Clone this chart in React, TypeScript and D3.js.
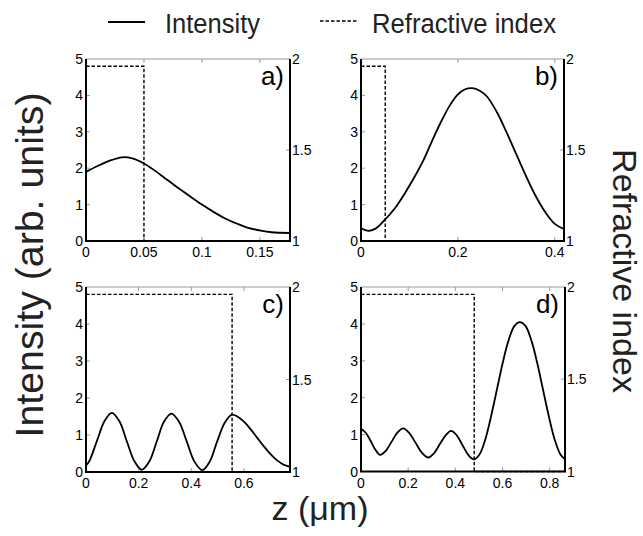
import React from 'react';
import * as d3 from 'd3';

const legendLabels = ['Intensity', 'Refractive index'];
const panelNames = ['a)', 'b)', 'c)', 'd)'];
const zMax = [0.176, 0.419, 0.775, 0.865];
const layerEnd = [0.05, 0.05, 0.555, 0.48];
const layerIndex = [1.96, 1.96, 1.96, 1.96];
const xTicks = [
  [0, 0.05, 0.1, 0.15],
  [0, 0.2, 0.4],
  [0, 0.2, 0.4, 0.6],
  [0, 0.2, 0.4, 0.6, 0.8],
];
const leftTicks = [0, 1, 2, 3, 4, 5];
const rightTicks = [1, 1.5, 2];

// intensity, [z (um), arb. units]
const intensityA = [
  [0, 1.9], [0.01, 2.06], [0.02, 2.2], [0.031, 2.3], [0.04, 2.27], [0.05, 2.13],
  [0.06, 1.92], [0.07, 1.68], [0.08, 1.45], [0.09, 1.22], [0.1, 1.0], [0.11, 0.8],
  [0.12, 0.62], [0.13, 0.48], [0.14, 0.36], [0.15, 0.29], [0.16, 0.24], [0.176, 0.22],
];
const intensityB = [
  [0, 0.35], [0.015, 0.28], [0.03, 0.34], [0.047, 0.55], [0.07, 0.9], [0.09, 1.3],
  [0.11, 1.75], [0.13, 2.25], [0.15, 2.85], [0.17, 3.4], [0.185, 3.76], [0.2, 4.03],
  [0.215, 4.17], [0.23, 4.2], [0.245, 4.13], [0.26, 3.97], [0.28, 3.55], [0.3, 3.0],
  [0.32, 2.4], [0.34, 1.8], [0.36, 1.25], [0.38, 0.8], [0.4, 0.47], [0.419, 0.33],
];
const intensityC = [
  [0, 0.17], [0.013, 0.3], [0.041, 0.83], [0.07, 1.37], [0.098, 1.6], [0.127, 1.37],
  [0.155, 0.83], [0.184, 0.29], [0.212, 0.06], [0.241, 0.29], [0.269, 0.83], [0.297, 1.37],
  [0.325, 1.58], [0.354, 1.35], [0.383, 0.82], [0.412, 0.28], [0.442, 0.05], [0.47, 0.28],
  [0.498, 0.82], [0.527, 1.33], [0.555, 1.55], [0.575, 1.5], [0.6, 1.36], [0.625, 1.16],
  [0.65, 0.93], [0.675, 0.7], [0.7, 0.49], [0.725, 0.32], [0.75, 0.2], [0.775, 0.14],
];
const intensityD = [
  [0, 1.16], [0.02, 1.05], [0.04, 0.84], [0.06, 0.6], [0.081, 0.45], [0.105, 0.56],
  [0.13, 0.81], [0.155, 1.06], [0.179, 1.17], [0.205, 1.04], [0.232, 0.77], [0.258, 0.51],
  [0.285, 0.38], [0.31, 0.5], [0.334, 0.74], [0.358, 0.97], [0.382, 1.1], [0.406, 0.98],
  [0.43, 0.72], [0.455, 0.45], [0.479, 0.33], [0.503, 0.47], [0.527, 0.87], [0.551, 1.48],
  [0.575, 2.18], [0.6, 2.92], [0.625, 3.54], [0.65, 3.94], [0.674, 4.05], [0.698, 3.94],
  [0.723, 3.54], [0.748, 2.92], [0.773, 2.18], [0.797, 1.48], [0.821, 0.87], [0.845, 0.47],
  [0.865, 0.33],
];
const intensity = [intensityA, intensityB, intensityC, intensityD];

const boxes = [
  { x0: 86, x1: 290, y0: 59, y1: 241 },
  { x0: 361, x1: 564, y0: 59, y1: 241 },
  { x0: 86, x1: 290, y0: 287, y1: 472 },
  { x0: 361, x1: 565, y0: 287, y1: 471.5 },
];

const font = "'Liberation Sans', Arial, Helvetica, sans-serif";
const dash = '3.5,2';

const Panel = ({ i }: { i: number }) => {
  const b = boxes[i];
  const x = d3.scaleLinear().domain([0, zMax[i]]).range([b.x0, b.x1]);
  const y = d3.scaleLinear().domain([0, 5]).range([b.y1, b.y0]);
  const yr = d3.scaleLinear().domain([1, 2]).range([b.y1, b.y0]);

  const line = d3
    .line<number[]>()
    .x((d) => x(d[0]))
    .y((d) => y(d[1]))
    .curve(d3.curveCatmullRom.alpha(0.5));

  const idx = [
    [0, layerIndex[i]],
    [layerEnd[i], layerIndex[i]],
    [layerEnd[i], 1],
    [zMax[i], 1],
  ];
  const idxLine = d3
    .line<number[]>()
    .x((d) => x(d[0]))
    .y((d) => yr(d[1]));

  return (
    <g>
      {/* inner ticks */}
      {xTicks[i].slice(1).map((t) => (
        <g key={'xt' + t}>
          <line x1={x(t)} x2={x(t)} y1={b.y0} y2={b.y0 + 4} stroke="#999" />
          <line x1={x(t)} x2={x(t)} y1={b.y1} y2={b.y1 - 4} stroke="#999" />
        </g>
      ))}
      {leftTicks.slice(1, -1).map((t) => (
        <line key={'lt' + t} x1={b.x0} x2={b.x0 + 4} y1={y(t)} y2={y(t)} stroke="#999" />
      ))}
      {rightTicks.slice(1, -1).map((t) => (
        <line key={'rt' + t} x1={b.x1} x2={b.x1 - 4} y1={yr(t)} y2={yr(t)} stroke="#999" />
      ))}

      <line x1={b.x0} x2={b.x1} y1={b.y0} y2={b.y0} stroke="#999" strokeWidth={1} />
      <path
        d={`M${b.x0},${b.y0}V${b.y1}H${b.x1}V${b.y0}`}
        fill="none"
        stroke="#000"
        strokeWidth={2}
      />

      <path d={idxLine(idx) || ''} fill="none" stroke="#000" strokeWidth={1.4} strokeDasharray={dash} />
      <path d={line(intensity[i]) || ''} fill="none" stroke="#000" strokeWidth={1.8} />

      {xTicks[i].map((t) => (
        <text key={'xl' + t} x={x(t)} y={b.y1 + 16} fontSize={14} textAnchor="middle" fontFamily={font}>
          {String(t)}
        </text>
      ))}
      {leftTicks.map((t) => (
        <text key={'yl' + t} x={b.x0 - 3} y={y(t)} dy="0.36em" fontSize={14} textAnchor="end" fontFamily={font}>
          {String(t)}
        </text>
      ))}
      {rightTicks.map((t) => (
        <text key={'yr' + t} x={b.x1 + 2} y={yr(t)} dy="0.36em" fontSize={14} textAnchor="start" fontFamily={font}>
          {String(t)}
        </text>
      ))}
      <text x={b.x1 - 6} y={b.y0 + 26} fontSize={26} textAnchor="end" fontFamily={font}>
        {panelNames[i]}
      </text>
    </g>
  );
};

export default function App() {
  return (
    <svg
      width={643}
      height={536}
      style={{ position: 'absolute', left: 0, top: 0, background: '#fff' }}
    >
      <line x1={108} x2={145} y1={22} y2={22} stroke="#000" strokeWidth={1.8} />
      <text x={165} y={33} fontSize={27} textLength={95} lengthAdjust="spacingAndGlyphs" fontFamily={font} fill="#222">
        {legendLabels[0]}
      </text>
      <line x1={320} x2={358} y1={21} y2={21} stroke="#000" strokeWidth={1.4} strokeDasharray={dash} />
      <text x={372} y={33} fontSize={27} textLength={184} lengthAdjust="spacingAndGlyphs" fontFamily={font} fill="#222">
        {legendLabels[1]}
      </text>

      {boxes.map((_, i) => (
        <Panel key={i} i={i} />
      ))}

      <text
        transform="translate(43,265) rotate(-90)"
        fontSize={38}
        textAnchor="middle"
        textLength={345}
        lengthAdjust="spacingAndGlyphs"
        fontFamily={font}
        fill="#222"
      >
        Intensity (arb. units)
      </text>
      <text
        transform="translate(613,271) rotate(90)"
        fontSize={34}
        textAnchor="middle"
        fontFamily={font}
        fill="#222"
      >
        Refractive index
      </text>
      <text x={320} y={520} fontSize={34} textAnchor="middle" fontFamily={font} fill="#222">
        z (μm)
      </text>
    </svg>
  );
}
